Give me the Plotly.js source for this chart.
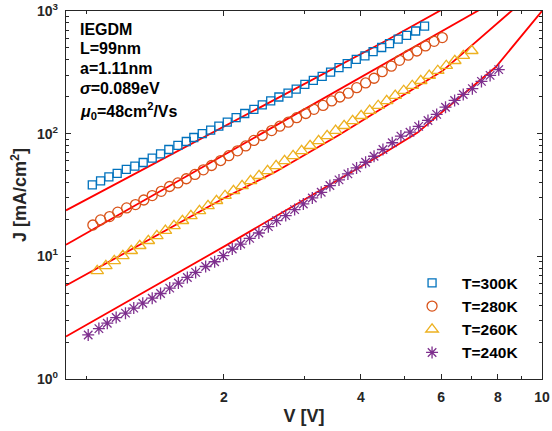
<!DOCTYPE html>
<html>
<head>
<meta charset="utf-8">
<script src="https://cdn.plot.ly/plotly-3.0.1.min.js"></script>
<style>html,body{margin:0;padding:0;background:#fff;}#chart{width:552px;height:431px;}</style>
</head>
<body>
<div id="chart"></div>
<script>
// ---- data ----
const legendNames = ['T=300K', 'T=280K', 'T=260K', 'T=240K'];

const v300 = [1.028,1.072,1.118,1.166,1.221,1.275,1.330,1.392,1.452,1.514,1.585,1.654,1.718,1.793,1.871,1.950,2.035,2.128,2.223,2.328,2.429,2.535,2.642,2.767,2.884,3.013,3.145,3.289,3.432,3.581,3.733,3.908,4.083,4.256,4.444,4.624,4.831,5.042,5.277,5.521];
const j300 = [38.2,41.2,44.5,47.5,51.1,54.3,58.2,63.1,68.5,74.3,80.2,86.3,93.1,100,107,115,124,135,146,158,172,185,199,214,231,252,272,293,318,345,372,404,430,467,504,542,589,634,687,752];

const v280 = [1.031,1.072,1.122,1.169,1.223,1.279,1.334,1.392,1.457,1.520,1.585,1.654,1.728,1.803,1.879,1.968,2.051,2.143,2.234,2.328,2.429,2.547,2.655,2.771,2.891,3.027,3.155,3.304,3.451,3.597,3.753,3.917,4.097,4.276,4.457,4.667,4.864,5.082,5.309,5.546,5.794,6.039];
const j280 = [18.0,19.8,21.1,22.9,24.8,26.4,28.8,31.3,33.9,37.1,39.7,42.9,46.5,50.7,55.0,60.4,66.1,72.4,79.4,88.1,96.6,106,115,124,135,146,158,170,185,199,214,237,259,283,320,355,396,436,472,519,566,607];

const v260 = [1.054,1.101,1.149,1.200,1.252,1.307,1.365,1.425,1.488,1.554,1.622,1.693,1.768,1.846,1.927,2.012,2.100,2.193,2.289,2.390,2.495,2.605,2.719,2.839,2.964,3.094,3.230,3.372,3.520,3.675,3.837,4.006,4.182,4.366,4.558,4.759,4.968,5.187,5.415,5.653,5.902,6.162,6.433,6.716,7.011];
const j260 = [7.62,8.37,9.19,10.1,11.1,12.2,13.4,14.7,16.2,17.7,19.5,21.4,23.5,25.8,28.4,31.2,34.2,37.6,41.3,45.4,49.8,54.7,60.1,66.0,72.5,79.7,87.5,96.1,106,116,127,140,154,169,185,204,224,246,270,297,326,358,393,432,474];

const v240 = [1.007,1.063,1.109,1.160,1.216,1.268,1.327,1.392,1.452,1.521,1.589,1.663,1.734,1.824,1.909,1.995,2.087,2.178,2.279,2.388,2.505,2.612,2.735,2.861,2.990,3.129,3.273,3.420,3.581,3.746,3.914,4.097,4.276,4.472,4.688,4.898,5.129,5.358,5.617,5.870,6.138,6.427,6.714,7.031,7.362,7.691,8.035];
const j240 = [2.286,2.576,2.851,3.170,3.443,3.784,4.150,4.560,4.977,5.508,6.053,6.730,7.396,8.260,9.036,10.12,11.48,12.59,14.00,15.49,17.46,19.54,21.48,24.04,26.73,29.92,33.27,37.76,41.98,46.99,52.60,58.48,65.46,74.30,84.33,95.5,102.8,114.6,128.2,143.6,164.4,186.6,208.9,232.8,266.7,298.5,332.7];

// fitted (model) curves, red lines
const fv300 = [0.9, 2.018, 4.529, 5.998];
const fj300 = [23.7, 116.7, 570.2, 1016];
const fv280 = [0.9, 2.388, 7.413];
const fj280 = [12.45, 96.6, 1059];
const fv260 = [0.9, 2.018, 2.600, 3.581, 6.039, 8.71];
const fj260 = [5.78, 30.27, 49.0, 97.5, 323.6, 1054];
const fv240 = [0.9, 2.018, 4.529, 5.321, 7.916, 10];
const fj240 = [2.218, 12.22, 70.63, 101.6, 349.1, 1000];

const xTickVals = [2, 4, 6, 8, 10];
const xTickText = ['2', '4', '6', '8', '10'];
const xMinorVals = [1, 3, 5, 7, 9];
const yTickVals = [1, 10, 100, 1000];
const yTickText = ['10<sup>0</sup>', '10<sup>1</sup>', '10<sup>2</sup>', '10<sup>3</sup>'];
const yMinorVals = [2,3,4,5,6,7,8,9,20,30,40,50,60,70,80,90,200,300,400,500,600,700,800,900];

const infoLines = ['<b>IEGDM</b>', '<b>L=99nm</b>', '<b>a=1.11nm</b>', '<b><i>σ</i>=0.089eV</b>', '<b><i>μ</i><sub>0</sub>=48cm<sup>2</sup>/Vs</b>'];

// ---- styling ----
const FONT = 'Liberation Sans, Arial, Helvetica, sans-serif';
const AX = '#262626';
const colors = ['#0072BD', '#D95319', '#EDB120', '#7E2F8E'];
const symbols = ['square-open', 'circle-open', 'triangle-up-open', 'asterisk-open'];
const sizes = [8, 10, 11, 10];

const dataSets = [[v300, j300], [v280, j280], [v260, j260], [v240, j240]];
const fits = [[fv300, fj300], [fv280, fj280], [fv260, fj260], [fv240, fj240]];

const traces = [];
fits.forEach(function (f) {
  traces.push({
    x: f[0], y: f[1], type: 'scatter', mode: 'lines', showlegend: false,
    line: {color: '#FF0000', width: 1.8}, hoverinfo: 'skip'
  });
});
dataSets.forEach(function (d, i) {
  traces.push({
    x: d[0], y: d[1], type: 'scatter', mode: 'markers', name: '<b>' + legendNames[i] + '</b>',
    marker: {symbol: symbols[i], size: sizes[i], color: colors[i], line: {color: colors[i], width: 1.3}}
  });
});

const axisCommon = {
  type: 'log', showgrid: false, zeroline: false,
  showline: true, linecolor: AX, linewidth: 1.2, mirror: 'ticks',
  ticks: 'inside', ticklen: 5, tickwidth: 1, tickcolor: AX,
  tickfont: {family: FONT, size: 14, color: AX, weight: 'bold'}
};

const annotations = infoLines.map(function (t, i) {
  const ys = [0.950, 0.8986, 0.8443, 0.7899, 0.728];
  return {
    xref: 'paper', yref: 'paper', x: 0.026, y: ys[i], xanchor: 'left', yanchor: 'middle',
    text: t, showarrow: false, font: {family: FONT, size: 16, color: '#000'}
  };
});

const layout = {
  width: 552, height: 431,
  margin: {l: 66, r: 10, t: 11, b: 52},
  paper_bgcolor: '#fff', plot_bgcolor: '#fff',
  font: {family: FONT, color: AX},
  xaxis: Object.assign({}, axisCommon, {
    range: [Math.log10(0.9), 1],
    tickmode: 'array', tickvals: xTickVals, ticktext: xTickText,
    minor: {tickmode: 'array', tickvals: xMinorVals, ticks: 'inside', ticklen: 3, tickcolor: AX, tickwidth: 1},
    ticklabelstandoff: 5,
    title: {text: '<b>V [V]</b>', font: {family: FONT, size: 18, color: AX}, standoff: 5}
  }),
  yaxis: Object.assign({}, axisCommon, {
    range: [0, 3],
    tickmode: 'array', tickvals: yTickVals, ticktext: yTickText,
    minor: {tickmode: 'array', tickvals: yMinorVals, ticks: 'inside', ticklen: 3, tickcolor: AX, tickwidth: 1},
    ticklabelstandoff: 4,
    title: {text: '<b>J [mA/cm<sup>2</sup>]</b>', font: {family: FONT, size: 18, color: AX}, standoff: 5}
  }),
  legend: {
    x: 0.706, y: 0.306, xanchor: 'left', yanchor: 'top',
    bgcolor: 'rgba(0,0,0,0)', borderwidth: 0,
    font: {family: FONT, size: 15.5, color: '#000'},
    itemwidth: 50, tracegroupgap: 0
  },
  annotations: annotations
};

Plotly.newPlot('chart', traces, layout, {staticPlot: true, displayModeBar: false});
</script>
</body>
</html>
